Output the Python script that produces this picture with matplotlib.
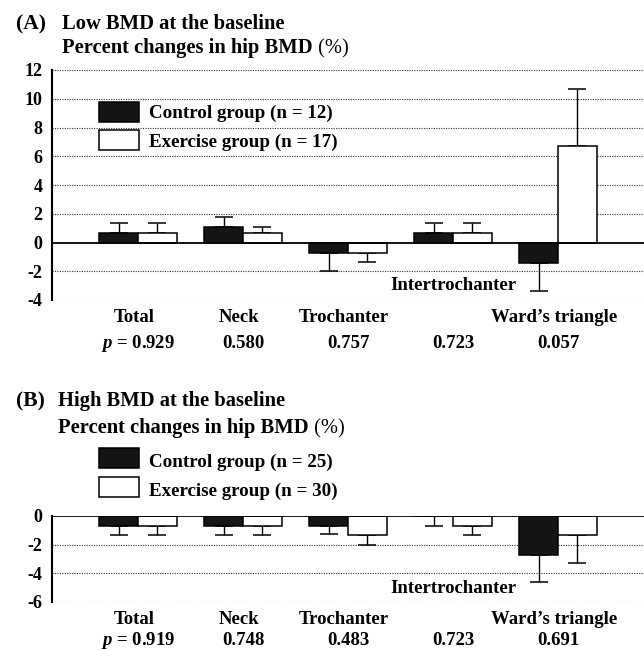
import numpy as np
import matplotlib
matplotlib.use("Agg")
import matplotlib.pyplot as plt
from matplotlib import transforms
from matplotlib.patches import Rectangle

plt.rcParams['font.family'] = ['Liberation Serif', 'DejaVu Serif']
plt.rcParams['font.weight'] = 'bold'
plt.rcParams['mathtext.fontset'] = 'custom'
plt.rcParams['mathtext.it'] = 'Liberation Serif:italic:bold'
plt.rcParams['mathtext.rm'] = 'Liberation Serif:bold'

# data (percent change, mean and SD)
sites = ["Total", "Neck", "Trochanter", "Intertrochanter", "Ward\u2019s triangle"]

low_control = [0.67, 1.10, -0.70, 0.67, -1.40]
low_control_sd = [0.66, 0.65, 1.30, 0.66, 1.95]
low_exercise = [0.67, 0.67, -0.70, 0.67, 6.70]
low_exercise_sd = [0.66, 0.38, 0.63, 0.66, 4.00]
low_p = ["0.929", "0.580", "0.757", "0.723", "0.057"]

high_control = [-0.67, -0.67, -0.67, 0.00, -2.70]
high_control_sd = [0.66, 0.66, 0.58, 0.67, 1.90]
high_exercise = [-0.67, -0.67, -1.33, -0.67, -1.33]
high_exercise_sd = [0.66, 0.66, 0.67, 0.66, 1.97]
high_p = ["0.919", "0.748", "0.483", "0.723", "0.691"]

W, H = 644, 650
BW = 0.371
BLACK = "#151515"


def fx(px):
    return px / W


def fy(py):
    return 1 - py / H


fig = plt.figure(figsize=(W / 100, H / 100), dpi=100)
fig.patch.set_facecolor("white")


def draw_panel(ax, control, control_sd, exercise, exercise_sd, yticks):
    x = np.arange(len(sites))
    for offs, vals, sd, face in [(-BW, control, control_sd, BLACK),
                                 (0, exercise, exercise_sd, "white")]:
        vals = np.array(vals)
        sd = np.array(sd)
        ax.bar(x + offs, vals, BW, align="edge", color=face,
               edgecolor="black", linewidth=1.1, zorder=3)
        up = np.where(vals > 0, sd, 0)
        lo = np.where(vals > 0, 0, sd)
        ax.errorbar(x + offs + BW / 2, vals, yerr=[lo, up], fmt="none",
                    ecolor="black", elinewidth=1.0, capsize=6.5,
                    capthick=1.1, zorder=2)
    for t in yticks:
        if t != 0:
            ax.axhline(t, color="#333333", lw=0.8, ls=(0, (1, 1.2)), zorder=1)
    ax.axhline(0, color="black", lw=1.3, zorder=4)
    ax.set_xlim(-0.819, 4.819)
    ax.set_ylim(yticks[0], yticks[-1])
    ax.set_yticks(yticks)
    ax.set_yticklabels([str(t) for t in yticks])
    ax.set_xticks([])
    ax.tick_params(axis="y", length=0, pad=7, labelsize=13)
    for s in ["top", "right", "bottom"]:
        ax.spines[s].set_visible(False)
    ax.spines["left"].set_linewidth(1.5)


def label_rows(ax, pvals, base1, base2):
    trans = transforms.blended_transform_factory(ax.transData, fig.transFigure)
    for i, name in enumerate(sites):
        if i != 3:
            ax.text(i - 0.04, fy(base1), name, transform=trans, ha="center",
                    va="baseline", fontsize=13.5, clip_on=False)
        lab = "$p$ = " + pvals[i] if i == 0 else pvals[i]
        ax.text(i, fy(base2), lab, transform=trans, ha="center",
                va="baseline", fontsize=13.5, clip_on=False)


def titles(ax, letter, line1, x0, b1, b2):
    fig.text(fx(16), fy(b1), letter, fontsize=15.5, va="baseline")
    fig.text(fx(x0), fy(b1), line1, fontsize=14.8, va="baseline")
    t = fig.text(fx(x0), fy(b2), "Percent changes in hip BMD",
                 fontsize=14.8, va="baseline")
    ax.annotate(" (%)", xy=(1, 0), xycoords=t, va="bottom", ha="left",
                fontsize=14.8, fontweight="normal", annotation_clip=False)


def legend(n_control, n_exercise, top1, top2, base1, base2):
    for top, face in [(top1, BLACK), (top2, "white")]:
        fig.add_artist(Rectangle((fx(99), fy(top + 20)), 40 / W, 20 / H,
                                 transform=fig.transFigure, facecolor=face,
                                 edgecolor="black", linewidth=1.1))
    fig.text(fx(149), fy(base1), f"Control group (n = {n_control})",
             fontsize=13.7, va="baseline")
    fig.text(fx(149), fy(base2), f"Exercise group (n = {n_exercise})",
             fontsize=13.7, va="baseline")


# panel A
ax_a = fig.add_axes([fx(52), fy(300), 592 / W, 230 / H])
draw_panel(ax_a, low_control, low_control_sd, low_exercise, low_exercise_sd,
           [-4, -2, 0, 2, 4, 6, 8, 10, 12])
ax_a.text(3, -3.3, "Intertrochanter", ha="center", va="baseline",
          fontsize=13.5, zorder=5)
label_rows(ax_a, low_p, 321.5, 347.5)
titles(ax_a, "(A)", "Low BMD at the baseline", 62, 29, 53)
legend(12, 17, 102, 130, 118, 147)

# panel B
ax_b = fig.add_axes([fx(52), fy(602), 592 / W, 86 / H])
draw_panel(ax_b, high_control, high_control_sd, high_exercise,
           high_exercise_sd, [-6, -4, -2, 0])
ax_b.text(3, -5.35, "Intertrochanter", ha="center", va="baseline",
          fontsize=13.5, zorder=5)
label_rows(ax_b, high_p, 624, 645)
titles(ax_b, "(B)", "High BMD at the baseline", 58, 406, 433)
legend(25, 30, 448, 477, 467, 496)

fig.savefig("out.png", dpi=100)
